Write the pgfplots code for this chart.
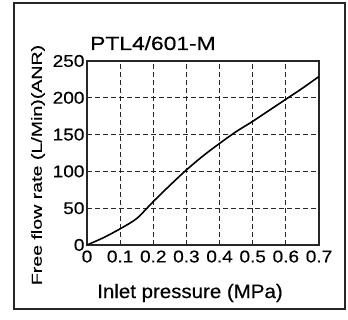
\documentclass[border=0pt]{standalone}
\usepackage{pgfplots}
\pgfplotsset{compat=1.18}
\usepackage{fontspec}
\setmainfont{Liberation Sans}
\newfontfamily\ylabfont[FakeStretch=1.35,FakeBold=0.4]{Liberation Sans}
\newfontfamily\titlefont[FakeStretch=1.2,FakeBold=0.4]{Liberation Sans}
\newfontfamily\tickfont[FakeStretch=1.12,FakeBold=0.4]{Liberation Sans}
\newfontfamily\xlabfont[FakeStretch=1.05,FakeBold=0.4]{Liberation Sans}
\begin{document}
\begin{tikzpicture}[x=1pt,y=1pt]
\path[use as bounding box] (-87,-75) rectangle (261,245);
\begin{axis}[
  at={(0,0)}, anchor=south west,
  scale only axis, width=232pt, height=184pt,
  xmin=0, xmax=0.7, ymin=0, ymax=250,
  xtick={0,0.1,...,0.7}, ytick={0,50,...,250},
  xticklabels={0,0.1,0.2,0.3,0.4,0.5,0.6,0.7},
  major tick length=0pt,
  grid=major,
  major grid style={black!85, dash pattern=on 5pt off 3pt, line width=0.8pt},
  axis line style={black!85, line width=1.4pt},
  tick label style={font=\tickfont\fontsize{17}{19}\selectfont},
  /pgf/number format/assume math mode=true,
  xticklabel style={yshift=-2pt},
  yticklabel style={xshift=1pt},
]
\addplot[black, line width=1.6pt, smooth, tension=0.45] coordinates {
(0,0) (0.05,10) (0.1,22) (0.15,36) (0.2,59) (0.25,81) (0.3,102) (0.35,121)
(0.4,138) (0.45,154) (0.5,168) (0.55,183) (0.6,198) (0.65,213) (0.7,229)};
\end{axis}
\node[anchor=base west, font=\titlefont\fontsize{19}{21}\selectfont, inner sep=0] at (3,195) {PTL4/601-M};
\node[rotate=90, font=\ylabfont\fontsize{14.5}{16}\selectfont, inner sep=0] at (-49,80) {Free flow rate (L/Min)(ANR)};
\node[font=\xlabfont\fontsize{19.5}{21}\selectfont, inner sep=0] at (103,-48) {Inlet pressure (MPa)};
\draw[black!85, line width=1.4pt] (-73,-64) rectangle (258,242);
\end{tikzpicture}
\end{document}
